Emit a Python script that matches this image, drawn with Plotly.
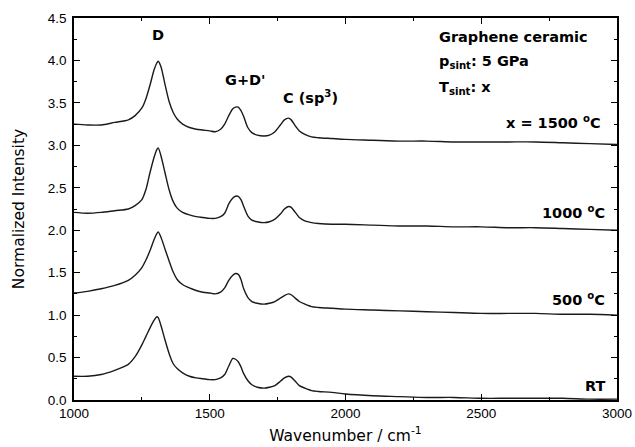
import plotly.graph_objects as go

# Wavenumber grid (cm^-1)
wavenumber = [1000, 1050, 1100, 1150, 1200, 1225, 1250, 1265, 1280, 1295, 1305, 1310,
              1320, 1335, 1350, 1365, 1380, 1400, 1425, 1450, 1475, 1500, 1520, 1540,
              1555, 1570, 1585, 1595, 1605, 1615, 1625, 1640, 1655, 1675, 1700, 1720,
              1740, 1760, 1775, 1790, 1800, 1815, 1830, 1850, 1875, 1900, 1950, 2000,
              2100, 2200, 2300, 2400, 2500, 2600, 2700, 2800, 2900, 3000]

# Normalized intensity (offset) for each sintering temperature
t1500 = [3.25, 3.24, 3.24, 3.27, 3.30, 3.35, 3.44, 3.55, 3.71, 3.89, 3.97, 3.99,
         3.93, 3.72, 3.52, 3.39, 3.31, 3.25, 3.21, 3.19, 3.18, 3.17, 3.16, 3.19,
         3.25, 3.35, 3.43, 3.45, 3.45, 3.41, 3.34, 3.21, 3.15, 3.12, 3.11, 3.12,
         3.16, 3.24, 3.30, 3.32, 3.30, 3.23, 3.17, 3.13, 3.10, 3.09, 3.08, 3.07,
         3.06, 3.05, 3.05, 3.04, 3.04, 3.04, 3.04, 3.03, 3.02, 3.01]

t1000 = [2.21, 2.20, 2.21, 2.23, 2.25, 2.29, 2.36, 2.48, 2.68, 2.86, 2.95, 2.97,
         2.88, 2.68, 2.48, 2.34, 2.26, 2.21, 2.18, 2.16, 2.15, 2.14, 2.14, 2.16,
         2.20, 2.31, 2.38, 2.40, 2.40, 2.36, 2.28, 2.17, 2.12, 2.10, 2.09, 2.10,
         2.13, 2.19, 2.25, 2.28, 2.27, 2.21, 2.15, 2.11, 2.09, 2.08, 2.07, 2.07,
         2.06, 2.05, 2.05, 2.04, 2.04, 2.03, 2.03, 2.02, 2.01, 2.00]

t500 = [1.26, 1.28, 1.31, 1.35, 1.41, 1.47, 1.56, 1.65, 1.76, 1.89, 1.96, 1.98,
        1.92, 1.78, 1.64, 1.51, 1.42, 1.36, 1.32, 1.29, 1.27, 1.26, 1.25, 1.27,
        1.32, 1.41, 1.47, 1.49, 1.48, 1.42, 1.31, 1.21, 1.16, 1.14, 1.13, 1.14,
        1.16, 1.20, 1.23, 1.25, 1.24, 1.20, 1.16, 1.13, 1.10, 1.09, 1.08, 1.07,
        1.06, 1.05, 1.04, 1.03, 1.02, 1.02, 1.02, 1.01, 1.01, 1.00]

t_rt = [0.28, 0.28, 0.30, 0.35, 0.42, 0.51, 0.65, 0.75, 0.85, 0.94, 0.98, 0.97,
        0.88, 0.71, 0.55, 0.43, 0.37, 0.32, 0.28, 0.26, 0.25, 0.24, 0.24, 0.26,
        0.30, 0.40, 0.49, 0.48, 0.45, 0.39, 0.31, 0.23, 0.18, 0.15, 0.14, 0.15,
        0.17, 0.22, 0.26, 0.28, 0.27, 0.22, 0.17, 0.14, 0.11, 0.10, 0.09, 0.07,
        0.05, 0.04, 0.03, 0.03, 0.02, 0.02, 0.02, 0.02, 0.01, 0.01]

series = [("x = 1500 °C", t1500), ("1000 °C", t1000), ("500 °C", t500), ("RT", t_rt)]

x_tickvals = [1000, 1500, 2000, 2500, 3000]
y_tickvals = [0.0, 0.5, 1.0, 1.5, 2.0, 2.5, 3.0, 3.5, 4.0, 4.5]

fig = go.Figure()
for name, vals in series:
    fig.add_trace(go.Scatter(x=wavenumber, y=vals, mode="lines", name=name,
                             line=dict(color="#1a1a1a", width=1.4, shape="spline", smoothing=0.8)))

bold_font = dict(family="DejaVu Sans", size=14.5, color="black")

anns = [
    dict(text="<b>D</b>", x=1309, y=4.30, xref="x", yref="y", xanchor="center", yanchor="middle"),
    dict(text="<b>G+D'</b>", x=1633, y=3.77, xref="x", yref="y", xanchor="center", yanchor="middle"),
    dict(text="<b>C (sp<sup>3</sup>)</b>", x=1871, y=3.57, xref="x", yref="y", xanchor="center", yanchor="middle"),
    dict(text="<b>Graphene ceramic</b>", x=0.6685, y=0.950, xref="paper", yref="paper", xanchor="left", yanchor="middle"),
    dict(text="<b>p<sub>sint</sub>: 5 GPa</b>", x=0.6685, y=0.885, xref="paper", yref="paper", xanchor="left", yanchor="middle"),
    dict(text="<b>T<sub>sint</sub>: x</b>", x=0.6685, y=0.817, xref="paper", yref="paper", xanchor="left", yanchor="middle"),
    dict(text="<b>x = 1500 <sup>o</sup>C</b>", x=0.975, y=0.727, xref="paper", yref="paper", xanchor="right", yanchor="middle"),
    dict(text="<b>1000 <sup>o</sup>C</b>", x=0.981, y=0.492, xref="paper", yref="paper", xanchor="right", yanchor="middle"),
    dict(text="<b>500 <sup>o</sup>C</b>", x=0.982, y=0.264, xref="paper", yref="paper", xanchor="right", yanchor="middle"),
    dict(text="<b>RT</b>", x=0.984, y=0.036, xref="paper", yref="paper", xanchor="right", yanchor="middle"),
]
for a in anns:
    a.update(showarrow=False, font=bold_font)
    fig.add_annotation(**a)

axis_common = dict(showline=True, linecolor="black", linewidth=1.5, mirror="allticks",
                   ticks="inside", ticklen=6, tickwidth=1.2, tickcolor="black",
                   showgrid=False, zeroline=False,
                   tickfont=dict(family="Liberation Sans, Arial", size=13.5, color="black"))

fig.update_xaxes(range=[1000, 3000], tickvals=x_tickvals,
                 minor=dict(ticks="inside", dtick=250, tick0=1000, ticklen=3, tickwidth=1.2, tickcolor="black"),
                 title=dict(text="Wavenumber / cm<sup>-1</sup>", standoff=10,
                            font=dict(family="DejaVu Sans", size=15.5, color="black")),
                 **axis_common)
fig.update_yaxes(range=[0, 4.5], tickvals=y_tickvals, tickformat=".1f", ticklabelstandoff=3,
                 minor=dict(ticks="inside", dtick=0.25, tick0=0, ticklen=3, tickwidth=1.2, tickcolor="black"),
                 title=dict(text="Normalized Intensity", standoff=19,
                            font=dict(family="DejaVu Sans", size=15.5, color="black")),
                 **axis_common)

fig.update_layout(width=635, height=447, margin=dict(l=74, r=18, t=18, b=47, autoexpand=False),
                  paper_bgcolor="white", plot_bgcolor="white", showlegend=False)

fig.write_html("out.html", config={"displayModeBar": False},
               post_script="document.body.style.margin='0';document.body.style.overflow='hidden';")
